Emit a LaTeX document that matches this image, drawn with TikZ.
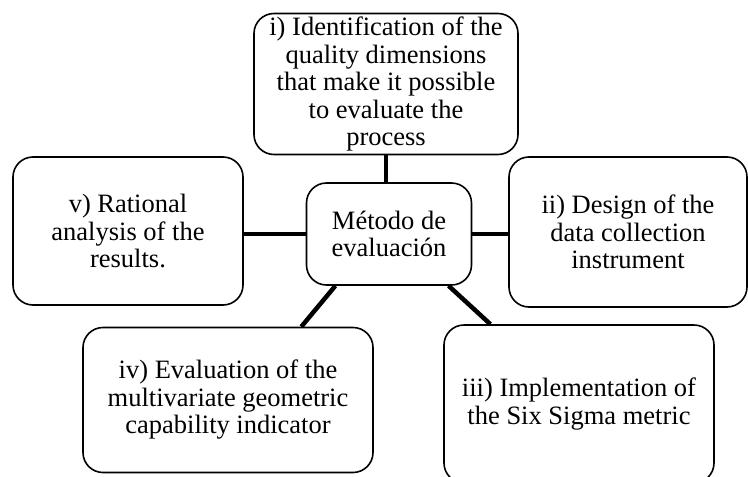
\documentclass[tikz,border=0pt]{standalone}
\usepackage{fontspec}
\setmainfont{Liberation Serif}
\usepackage{tikz}

\begin{document}
\begin{tikzpicture}[x=1pt, y=-1pt,
	box/.style={draw, rounded corners=20pt, align=center, inner sep=0pt, line width=1.6pt,
		font={\fontsize{26.5}{27.5}\selectfont}},
	link/.style={line width=4.5pt}]
\useasboundingbox (0,0) rectangle (748,477);
\node[box, minimum width=264pt, minimum height=141pt] (idf) at (386,84)
	{i) Identification of the\\ quality dimensions\\ that make it possible\\ to evaluate the\\ process};
\node[box, minimum width=165pt, minimum height=102pt] (met) at (389,234)
	{Método de\\ evaluación};
\node[box, minimum width=230pt, minimum height=148pt] (ana) at (128,231)
	{v) Rational\\ analysis of the\\ results.};
\node[box, minimum width=238pt, minimum height=150pt] (dis) at (628,232)
	{ii) Design of the\\ data collection\\ instrument};
\node[box, minimum width=290pt, minimum height=145pt] (eva) at (228,400)
	{iv) Evaluation of the\\ multivariate geometric\\ capability indicator};
\node[box, minimum width=270pt, minimum height=158pt] (imp) at (579,404)
	{iii) Implementation of\\ the Six Sigma metric};
\path[link]
(idf.south) edge (idf.south |- met.north)
(met.west) edge (met.west -| ana.east)
(met.east) edge (met.east -| dis.west)
(met.224) edge (eva.45)
(met.319) edge (imp.138)
;
\end{tikzpicture}
\end{document}
